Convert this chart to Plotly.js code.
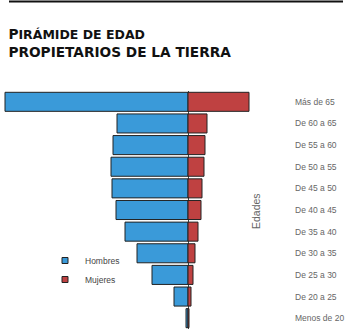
<!DOCTYPE html>
<html>
<head>
<meta charset="utf-8">
<script src="https://cdn.plot.ly/plotly-3.0.1.min.js"></script>
<style>html,body{margin:0;padding:0;background:#fff;}#chart{width:350px;height:329px;}</style>
</head>
<body>
<div id="chart"></div>
<script>
const edades = ["Más de 65","De 60 a 65","De 55 a 60","De 50 a 55","De 45 a 50","De 40 a 45","De 35 a 40","De 30 a 35","De 25 a 30","De 20 a 25","Menos de 20"];
const hombres = [183, 71, 75, 77, 76, 72, 63, 51, 36, 14, 2];
const mujeres = [61, 19, 17, 16, 14, 13, 10, 7, 5, 3, 1];

const blue = "#3a9ad9";
const red = "#bf4141";
const edge = "#222";

const traces = [
  {type:"bar", orientation:"h", name:"Hombres", y:edades, x:hombres.map(v=>-v),
   marker:{color:blue, line:{color:edge, width:1}}, showlegend:false, hoverinfo:"skip"},
  {type:"bar", orientation:"h", name:"Mujeres", y:edades, x:mujeres,
   marker:{color:red, line:{color:edge, width:1}}, showlegend:false, hoverinfo:"skip"},
  {type:"scatter", mode:"markers", name:"Hombres", x:[null], y:[null],
   marker:{symbol:"square", size:6, color:blue, line:{color:edge, width:1}}},
  {type:"scatter", mode:"markers", name:"Mujeres", x:[null], y:[null],
   marker:{symbol:"square", size:6, color:red, line:{color:edge, width:1}}}
];

const layout = {
  width:350, height:329,
  margin:{l:0, r:56, t:91, b:0, pad:0},
  paper_bgcolor:"#fff", plot_bgcolor:"#fff",
  barmode:"relative", bargap:0.12,
  title:{
    text:"P<span style='font-size:12.5px'>IRÁMIDE DE EDAD</span><br>PROPIETARIOS DE LA TIERRA",
    font:{family:"DejaVu Sans", size:13.7, color:"#111", weight:"bold"},
    x:10/350, xanchor:"left", xref:"paper", y:1-39/329, yanchor:"top", yref:"container"
  },
  xaxis:{range:[-188, 106], showticklabels:false, showgrid:false, zeroline:true,
         zerolinecolor:"#444", zerolinewidth:1, fixedrange:true, showline:false},
  yaxis:{type:"category", autorange:"reversed", side:"right", showgrid:false, zeroline:false,
         ticks:"", showline:false,
         tickfont:{family:"Liberation Sans, Arial, sans-serif", size:8.5, color:"#666"}},
  showlegend:true,
  legend:{x:45/294, xanchor:"left", y:(329-246)/238, yanchor:"top", bgcolor:"rgba(0,0,0,0)",
          font:{family:"Liberation Sans, Arial, sans-serif", size:8.5, color:"#444"},
          itemwidth:30, tracegroupgap:0},
  annotations:[
    {text:"Edades", xref:"paper", yref:"paper", x:264/294, y:(329-211)/238, showarrow:false,
     textangle:-90, font:{family:"Liberation Sans, Arial, sans-serif", size:10.5, color:"#666"}}
  ],
  shapes:[
    {type:"line", xref:"paper", yref:"paper", x0:9/294, x1:343/294, y0:(329-1.5)/238, y1:(329-1.5)/238,
     line:{color:"#111", width:2}}
  ]
};

Plotly.newPlot("chart", traces, layout, {displayModeBar:false, staticPlot:true});
</script>
</body>
</html>
